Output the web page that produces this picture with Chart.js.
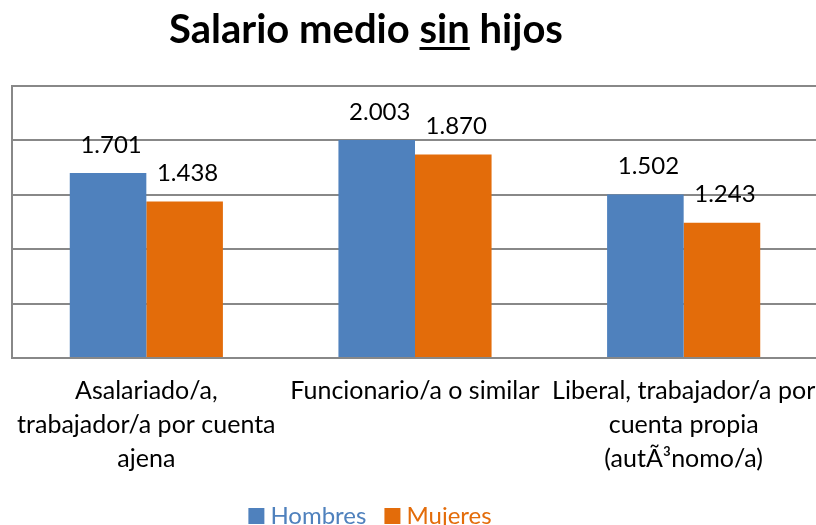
<!DOCTYPE html>
<html>
<head>
<meta charset="utf-8">
<script src="https://cdn.jsdelivr.net/npm/chart.js@4.4.0/dist/chart.umd.min.js"></script>
<style>
    html, body { margin: 0; padding: 0; background: #fff; overflow: hidden; }
    #wrap { position: relative; width: 818px; height: 525px; }
</style>
</head>
<body>
<div id="wrap"><canvas id="chart"></canvas></div>
<script>
// Chart data
const categories = [
    ['Asalariado/a,', 'trabajador/a por cuenta', 'ajena'],
    ['Funcionario/a o similar'],
    ['Liberal, trabajador/a por', 'cuenta propia', '(autÃ³nomo/a)']
];
const hombres = [1701, 2003, 1502];
const mujeres = [1438, 1870, 1243];
const seriesNames = ['Hombres', 'Mujeres'];
const seriesColors = ['#4F81BD', '#E36C0A'];

const FONT = 'Lato, "Open Sans", sans-serif';

// Title with underlined "sin"
const titlePlugin = {
    id: 'titleUnderline',
    afterDraw(chart) {
        const ctx = chart.ctx;
        const parts = ['Salario medio ', 'sin', ' hijos'];
        ctx.save();
        ctx.font = 'bold 40px ' + FONT;
        ctx.fillStyle = '#000';
        ctx.textBaseline = 'alphabetic';
        const total = parts.reduce((w, p) => w + ctx.measureText(p).width, 0);
        let x = 366 - total / 2;
        const y = 43;
        parts.forEach((p, i) => {
            ctx.fillText(p, x, y);
            const w = ctx.measureText(p).width;
            if (i === 1) {
                ctx.fillRect(x, y + 4, w, 3);
            }
            x += w;
        });
        ctx.restore();
    }
};

// Value labels above bars (Spanish thousands separator)
const valueLabels = {
    id: 'valueLabels',
    afterDatasetsDraw(chart) {
        const ctx = chart.ctx;
        ctx.save();
        ctx.font = '24px ' + FONT;
        ctx.fillStyle = '#000';
        ctx.textAlign = 'center';
        ctx.textBaseline = 'middle';
        chart.data.datasets.forEach((ds, i) => {
            chart.getDatasetMeta(i).data.forEach((bar, j) => {
                const txt = ds.data[j].toLocaleString('de-DE');
                ctx.fillText(txt, bar.x + 3, bar.y - 28);
            });
        });
        ctx.restore();
    }
};

// Legend drawn by hand so it can sit off-centre like the original
const legendPlugin = {
    id: 'customLegend',
    afterDraw(chart) {
        const ctx = chart.ctx;
        ctx.save();
        ctx.font = '24px ' + FONT;
        ctx.textBaseline = 'middle';
        const boxSize = 16, gap = 6, itemGap = 18;
        const items = chart.data.datasets.map(ds => ({
            text: ds.label, color: ds.backgroundColor,
            w: boxSize + gap + ctx.measureText(ds.label).width
        }));
        const total = items.reduce((s, it) => s + it.w, 0) + itemGap * (items.length - 1);
        let x = 370 - total / 2;
        const y = 516;
        items.forEach(it => {
            ctx.fillStyle = it.color;
            ctx.fillRect(x, y - boxSize / 2, boxSize, boxSize);
            ctx.fillText(it.text, x + boxSize + gap, y);
            x += it.w + itemGap;
        });
        ctx.restore();
    }
};

new Chart(document.getElementById('chart'), {
    type: 'bar',
    data: {
        labels: categories,
        datasets: [
            { label: seriesNames[0], data: hombres, backgroundColor: seriesColors[0] },
            { label: seriesNames[1], data: mujeres, backgroundColor: seriesColors[1] }
        ]
    },
    options: {
        responsive: true,
        maintainAspectRatio: false,
        animation: false,
        layout: { padding: { top: 86, left: 12, right: 0, bottom: 41 } },
        datasets: { bar: { categoryPercentage: 0.57, barPercentage: 1 } },
        scales: {
            x: {
                grid: { display: false },
                border: { display: true, color: '#888', width: 2 },
                ticks: {
                    color: '#000',
                    font: { family: FONT, size: 25, lineHeight: 1.36 },
                    maxRotation: 0,
                    autoSkip: false,
                    padding: 8
                },
                // let the last label run off the edge instead of shrinking the plot
                afterFit(scale) {
                    scale.paddingLeft = 0;
                    scale.paddingRight = 0;
                }
            },
            y: {
                min: 0,
                max: 2500,
                ticks: { display: false, stepSize: 500 },
                grid: { color: '#888', lineWidth: 2, drawTicks: false },
                border: { display: true, color: '#888', width: 2 }
            }
        },
        plugins: {
            legend: { display: false },
            tooltip: { enabled: false }
        }
    },
    plugins: [titlePlugin, valueLabels, legendPlugin]
});
</script>
</body>
</html>
